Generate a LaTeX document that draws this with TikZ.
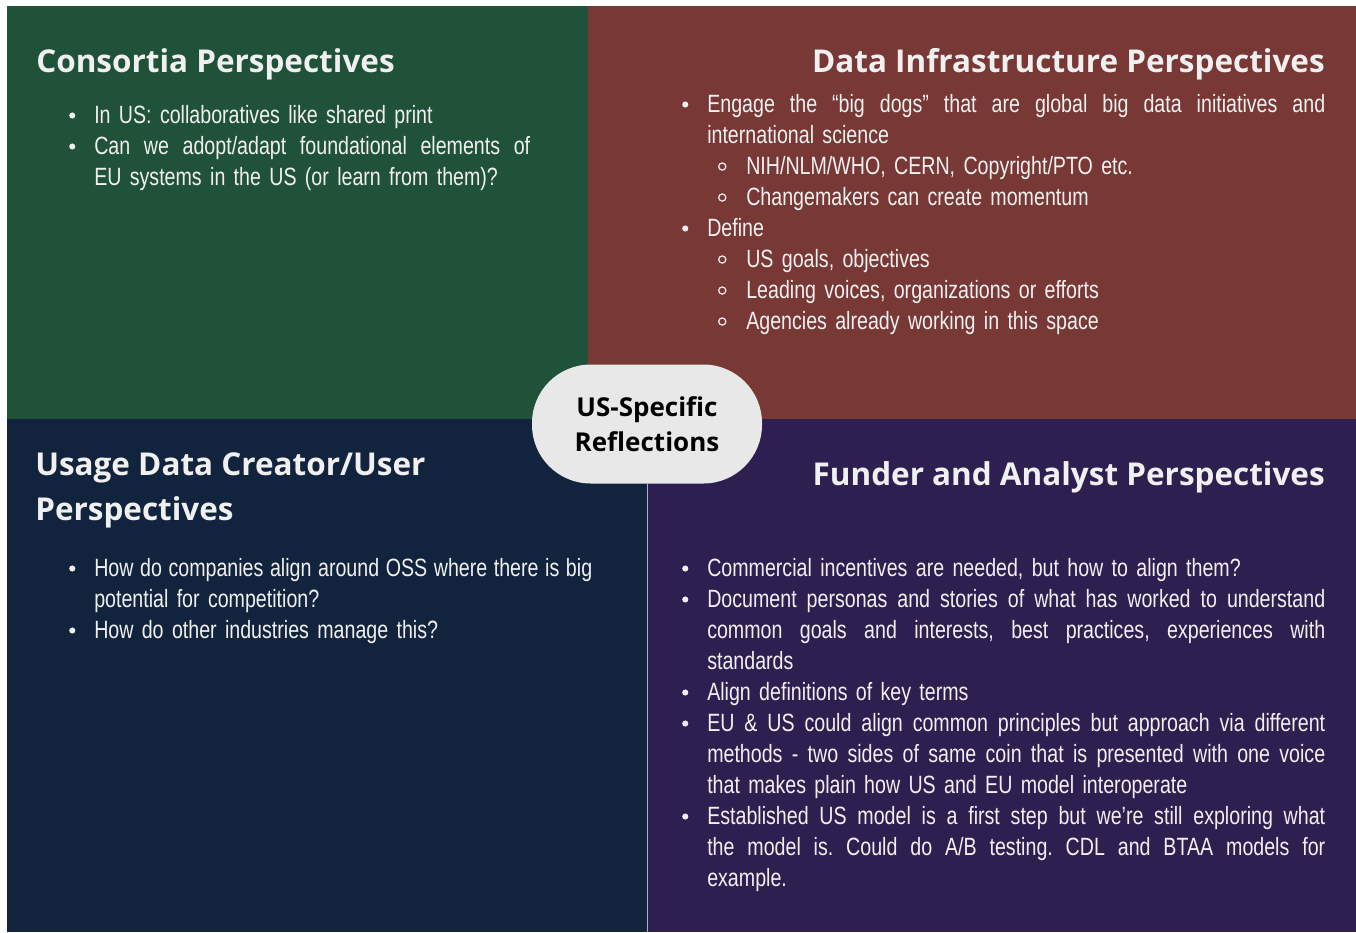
\documentclass[tikz,border=0pt]{standalone}
\usepackage{fontspec}
\usepackage{enumitem}
\setmainfont{Liberation Sans}[FakeStretch=0.785]
\newfontfamily\headfont{Open Sans}
\definecolor{QGreen}{RGB}{31,82,56}
\definecolor{QRed}{RGB}{120,57,54}
\definecolor{QNavy}{RGB}{18,36,61}
\definecolor{QPurple}{RGB}{45,31,80}
\definecolor{QPill}{RGB}{232,232,232}
\definecolor{QText}{RGB}{240,240,240}
\definecolor{QLine}{RGB}{175,175,195}
\hyphenpenalty=10000
\tolerance=9999
\frenchspacing

% wider word spaces for the bullet text
\newcommand{\wordsp}{\spaceskip=.3333em plus .3em minus .13em\relax}

% list markers
\newcommand{\dotlbl}{\makebox[0pt]{\tikz[baseline]\fill[QText] (0,0.33em) circle (2.3pt);}}
\newcommand{\ringlbl}{\makebox[0pt]{\tikz[baseline]\draw[QText,line width=0.9pt] (0,0.33em) circle (2.7pt);}}
\setlist[itemize]{itemsep=0pt,parsep=0pt,topsep=0pt,partopsep=0pt,labelwidth=0pt}
\setlist[itemize,1]{label=\dotlbl,leftmargin=16.5pt,labelsep=16.5pt}
\setlist[itemize,2]{label=\ringlbl,leftmargin=29.25pt,labelsep=18pt}

\tikzset{
    TT/.style ={inner sep=0pt, text=QText, font=\headfont\bfseries\fontsize{23.6pt}{33.75pt}\selectfont},
    BD/.style ={anchor=north west, inner sep=0pt, text=QText, align=justify,
                font=\fontsize{18.75pt}{23.25pt}\selectfont},
    PL/.style ={fill=QPill, rounded corners=44pt, minimum width=172.5pt, minimum height=89.25pt,
                align=center, font=\headfont\bfseries\fontsize{19.5pt}{26.25pt}\selectfont},
    DV/.style ={draw=QLine, line width=0.75pt}}

\begin{document}
\begin{tikzpicture}[x=0.75pt,y=-0.75pt]
    \fill[white] (0,0) rectangle (1356,932);
    \useasboundingbox (0,0) rectangle (1356,932);
    % four quarters
    \fill[QGreen] (7,6) rectangle (588,419);
    \fill[QRed] (588,6) rectangle (1356,419);
    \fill[QNavy] (7,419) rectangle (647,932);
    \fill[QPurple] (647,419) rectangle (1356,932);

    \node[TT, anchor=base west] (ttlCons) at (36,72) {Consortia Perspectives};
    \node[TT, anchor=base east] (ttlInfra) at (1325,72) {Data Infrastructure Perspectives};
    \node[TT, anchor=base west, align=left] (ttlUsage) at (35,520) {Usage Data Creator/User\\Perspectives};
    \node[TT, anchor=base east] (ttlFund) at (1325,485) {Funder and Analyst Perspectives};

    \node[BD, text width=343.5pt] (bodyCons) at (72,92.5) {\wordsp
        \begin{itemize}
            \item In US: collaboratives like shared print
            \item Can we adopt/adapt foundational elements of\linebreak EU systems in the US (or learn from them)?
        \end{itemize}};
    \node[BD, text width=480pt] (bodyInfra) at (685,81.5) {\wordsp
        \begin{itemize}
            \item Engage the “big dogs” that are global big data initiatives and\linebreak international science
            \begin{itemize}
                \item NIH/NLM/WHO, CERN, Copyright/PTO etc.
                \item Changemakers can create momentum
            \end{itemize}
            \item Define
            \begin{itemize}
                \item US goals, objectives
                \item Leading voices, organizations or efforts
                \item Agencies already working in this space
            \end{itemize}
        \end{itemize}};
    \node[BD, text width=390pt] (bodyUsage) at (72,545.5) {\wordsp
        \begin{itemize}
            \item How do companies align around OSS where there is big\linebreak potential for competition?
            \item How do other industries manage this?
        \end{itemize}};
    \node[BD, text width=480pt] (bodyFund) at (685,545.5) {\wordsp
        \begin{itemize}
            \item Commercial incentives are needed, but how to align them?
            \item Document personas and stories of what has worked to understand\linebreak common goals and interests, best practices, experiences with\linebreak standards
            \item Align definitions of key terms
            \item EU \& US could align common principles but approach via different\linebreak methods - two sides of same coin that is presented with one voice\linebreak that makes plain how US and EU model interoperate
            \item Established US model is a first step but we’re still exploring what\linebreak the model is. Could do A/B testing. CDL and BTAA models for\linebreak example.
        \end{itemize}};

    \coordinate (divEnd) at (647,932);
    \node[PL] (pill) at (647,424) {US-Specific\\Reflections};
    \draw[DV] (pill.south) -- (divEnd);
\end{tikzpicture}
\end{document}
